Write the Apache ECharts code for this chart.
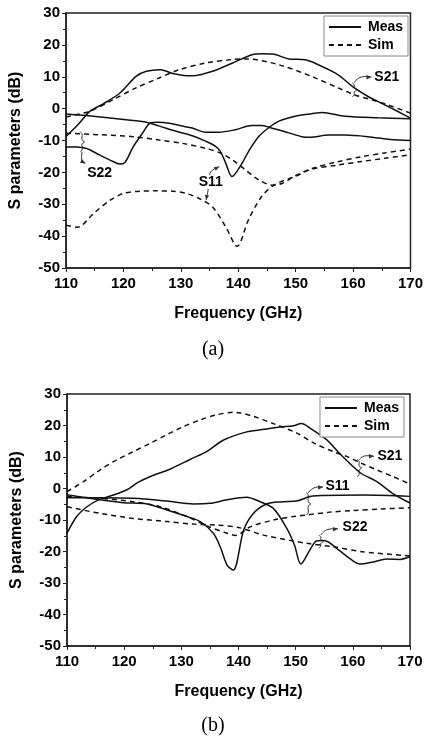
<!DOCTYPE html>
<html>
<head>
<meta charset="utf-8">
<script src="https://cdn.jsdelivr.net/npm/echarts@6/dist/echarts.min.js"></script>
<style>
  html, body { margin: 0; padding: 0; background: #fff; }
  #chart { width: 426px; height: 739px; }
</style>
</head>
<body>
<div id="chart"></div>
<script>
// panel (a): [GHz, dB]
const aS21Meas = [[110,-8.7],[112,-5.2],[114.2,-0.8],[116.5,1.5],[119.4,4.9],[122.2,10.1],[124,11.7],[126.3,12.2],[127.4,11.8],[128.6,11],[130.5,10.4],[132.1,10.3],[135.5,11.7],[139,14.3],[142.4,16.9],[144.2,17.2],[146,17.1],[148.8,15.6],[151.7,15.3],[154.6,13.2],[157.4,10.6],[160,6.8],[162.6,3.8],[165.5,1.2],[167.8,-0.9],[170,-3]];
const aS21Sim = [[110,-2.6],[114.2,-0.8],[118.2,2.8],[122.2,6.5],[126.2,9.6],[129.7,12.2],[134.3,14.3],[138.9,15.4],[141.5,15.6],[147,13.8],[152.8,10.1],[157.4,6.5],[160.3,4.3],[163.2,2.8],[166,1.2],[170,-1.4]];
const aS11Meas = [[110,-1.7],[114.8,-2.4],[120.5,-3.5],[124,-4.3],[126.3,-5.5],[129.2,-7.1],[132,-8.5],[134.3,-10.2],[136,-11.8],[136.9,-13.5],[137.8,-17],[138.9,-21.3],[140.7,-17],[141.8,-13.4],[143.6,-8.7],[145.3,-6],[147,-4],[149.9,-2.4],[152.8,-1.6],[154.6,-1.2],[158.6,-2.4],[164.3,-2.9],[170,-3.2]];
const aS22Meas = [[110,-12],[111.9,-12],[113.6,-12.5],[115.9,-14.6],[118.2,-16.6],[119.4,-17.4],[120.3,-16.8],[121.7,-12],[123.4,-7.5],[124.6,-4.6],[126,-4.3],[128,-4.6],[130,-5.4],[132,-6.1],[134.3,-7.4],[136.6,-7.4],[139.5,-6.6],[142.4,-5.3],[144,-5.3],[145.5,-5.9],[148.8,-7.6],[151.1,-8.8],[152.5,-9],[155.7,-8.3],[158.6,-8.3],[162.6,-8.8],[166.5,-9.7],[170,-10]];
const aS11Sim = [[110,-36.6],[112,-37.2],[114.8,-32.9],[117.7,-28.7],[120,-26.6],[122.9,-25.9],[125.7,-25.8],[128.6,-25.9],[130.9,-26.6],[133.2,-28.2],[135.5,-30.8],[137.8,-37],[139.8,-43.2],[141.8,-34.8],[144.1,-27.5],[146.4,-23.8],[150,-21.2],[152.8,-19],[157,-17.8],[161.4,-16.6],[165.5,-15.6],[170,-14.5]];
const aS22Sim = [[110,-7.7],[116,-8.2],[121.7,-8.8],[126,-9.8],[130.3,-10.9],[134.4,-12.5],[137,-14],[139,-16.1],[141.3,-19.3],[143.6,-22.4],[145.9,-24],[147.6,-23.5],[150,-21],[152.8,-18.8],[157,-16.8],[161.4,-15.1],[165.5,-13.9],[170,-12.7]];

// panel (b)
const bS21Meas = [[110,-14.2],[111.7,-8.9],[113.5,-5.8],[115.5,-3.6],[117.6,-2.4],[120.5,-0.4],[122.5,2],[124.6,3.8],[128.1,6.2],[131.6,9.3],[134.5,11.8],[137.4,15.4],[141.3,17.9],[144.9,18.9],[147.3,19.5],[149.6,19.9],[151,20.6],[152.5,19.2],[155.4,15.5],[157.8,10.9],[161.3,5],[164.2,2.2],[167,-1.6],[170,-4.6]];
const bS21Sim = [[110,-1],[112.9,2.2],[115.8,5.9],[118.7,9.1],[121.6,11.7],[124.6,14.4],[127.5,17.1],[130.4,19.7],[133.3,21.8],[136.2,23.4],[139.1,24.2],[140.3,24],[142.6,22.9],[146.1,20.6],[150.2,17.6],[153.1,14.5],[156.6,11.7],[158.9,10.2],[161.5,8],[164.2,5.9],[167,3.8],[170,1.4]];
const bS11Meas = [[110,-2],[115.8,-3.6],[119.9,-4.5],[124,-4.9],[127.5,-6.8],[131,-8.9],[133.3,-10.5],[135.6,-14.2],[136.8,-18.5],[138,-24.3],[139.1,-25.9],[140.9,-13.2],[142.6,-7.9],[144.9,-4.9],[147.8,-4.2],[150.1,-4],[153,-2.4],[162,-2.1],[170,-2.5]];
const bS22Meas = [[110,-2.9],[115.8,-2.9],[121.6,-3.1],[127.5,-4],[132.1,-4.9],[135,-4.7],[138,-3.6],[141.4,-2.8],[143.8,-4.2],[146.1,-6.3],[148.4,-12.5],[149.8,-18],[150.9,-24],[152.5,-19.5],[153.7,-16.6],[155,-16.5],[157.5,-19.5],[159.5,-22.3],[161.2,-24],[163.6,-23.3],[165.9,-22.4],[168.3,-22.5],[170,-21.6]];
const bS11Sim = [[110,-2.6],[115.8,-3.1],[121.6,-4.2],[126.3,-5.8],[131,-8.9],[134.5,-11.9],[138,-14.2],[139.5,-14.9],[142,-12.2],[146.1,-10],[150,-8.8],[152,-8.4],[156,-7.5],[160,-7],[165,-6.5],[170,-6.1]];
const bS22Sim = [[110,-5.8],[115.8,-7.9],[121.6,-9.5],[127.5,-10.5],[132.1,-11.3],[136.2,-11.6],[140.3,-12.5],[144.4,-14.8],[151.9,-17.4],[156.6,-18.5],[161.8,-20.1],[170,-21.4]];

const legendNames = ['Meas', 'Sim'];
const panelTags = ['(a)', '(b)'];

// annotation anchors in data units: brace [f, top, bottom], arrow path, text spot
const annots = [
  [
    { label: 'S21', brace: [160.2, 8.1, 3.7], arrow: [[160.2, 8.1], [161.2, 9.8], [163.2, 9.9]], text: [163.7, 10.0] },
    { label: 'S22', brace: [112.8, -7.3, -13.6], arrow: [[112.8, -13.6], [112.8, -16.6], [113.4, -17.1]], text: [113.7, -20.1] },
    { label: 'S11', brace: null, arrow: [[134.4, -28.7], [134.8, -24.9], [135, -20.8], [135.6, -19.2], [136.7, -18.2]], both: true, text: [133.1, -23] }
  ],
  [
    { label: 'S21', brace: [161.1, 9.2, 3.8], arrow: [[161.1, 9.2], [162, 10.3], [163.7, 10.2]], text: [164.3, 10.4] },
    { label: 'S11', brace: [152.2, -1.4, -8.4], arrow: [[152.2, -1.4], [153.2, 0.2], [154.8, 0.5]], text: [155.2, 0.8] },
    { label: 'S22', brace: [154.4, -14.8, -18.9], arrow: [[154.4, -14.8], [155.5, -13.1], [157.4, -12.8]], text: [158.2, -12.2] }
  ]
];

const FONT = 'Arial, "Liberation Sans", sans-serif';
const INK = '#111';

function line(name, data, idx, dashed) {
  return {
    name, type: 'line', data, xAxisIndex: idx, yAxisIndex: idx,
    smooth: 0.3, symbol: 'none', silent: true,
    lineStyle: { color: INK, width: 1.5, type: dashed ? [5, 4] : 'solid' },
    itemStyle: { color: INK }
  };
}

function xAx(idx) {
  return {
    gridIndex: idx, type: 'value', min: 110, max: 170, interval: 10,
    name: 'Frequency (GHz)', nameLocation: 'middle', nameGap: 38,
    nameTextStyle: { fontFamily: FONT, fontWeight: 'bold', fontSize: 16, color: '#000' },
    axisLine: { onZero: false, lineStyle: { color: '#222', width: 1.5 } },
    axisTick: { inside: false, length: 4, lineStyle: { color: '#222' } },
    minorTick: { show: true, splitNumber: 2, length: 3, lineStyle: { color: '#222' } },
    axisLabel: { fontFamily: FONT, fontWeight: 'bold', fontSize: 15, color: '#000', margin: 8 },
    splitLine: { show: false }
  };
}

function yAx(idx) {
  return {
    gridIndex: idx, type: 'value', min: -50, max: 30, interval: 10,
    name: 'S parameters (dB)', nameLocation: 'middle', nameGap: 42,
    nameTextStyle: { fontFamily: FONT, fontWeight: 'bold', fontSize: 16, color: '#000' },
    axisLine: { onZero: false, lineStyle: { color: '#222', width: 1.5 } },
    axisTick: { inside: false, length: 4, lineStyle: { color: '#222' } },
    minorTick: { show: true, splitNumber: 2, length: 3, lineStyle: { color: '#222' } },
    axisLabel: { fontFamily: FONT, fontWeight: 'bold', fontSize: 15, color: '#000', margin: 6 },
    splitLine: { show: false }
  };
}

function legend(top, right) {
  return {
    data: legendNames, orient: 'vertical', top, right,
    itemWidth: 32, itemHeight: 14, itemGap: 4, padding: [4, 5, 4, 4],
    borderColor: '#888', borderWidth: 1, backgroundColor: '#fff',
    selectedMode: false,
    itemStyle: { opacity: 0 },
    textStyle: { fontFamily: FONT, fontWeight: 'bold', fontSize: 14, color: '#000', padding: [0, 0, 0, 2] }
  };
}

const chart = echarts.init(document.getElementById('chart'));

chart.setOption({
  animation: false,
  backgroundColor: '#fff',
  grid: [
    { left: 66, top: 13, width: 347, height: 255, show: true, borderColor: '#222', borderWidth: 1.5 },
    { left: 67, top: 394, width: 343, height: 252, show: true, borderColor: '#222', borderWidth: 1.5 }
  ],
  legend: [legend(16, 18), legend(397, 22)],
  xAxis: [xAx(0), xAx(1)],
  yAxis: [yAx(0), yAx(1)],
  series: [
    line('Meas', aS21Meas, 0, false),
    line('Sim', aS21Sim, 0, true),
    line('Meas', aS11Meas, 0, false),
    line('Meas', aS22Meas, 0, false),
    line('Sim', aS11Sim, 0, true),
    line('Sim', aS22Sim, 0, true),
    line('Meas', bS21Meas, 1, false),
    line('Sim', bS21Sim, 1, true),
    line('Meas', bS11Meas, 1, false),
    line('Meas', bS22Meas, 1, false),
    line('Sim', bS11Sim, 1, true),
    line('Sim', bS22Sim, 1, true)
  ]
});

// annotations: braces, arrows, labels, placed through the grid scales
function head(p, q) {
  const dx = p[0] - q[0], dy = p[1] - q[1];
  const L = Math.hypot(dx, dy) || 1;
  const ux = dx / L, uy = dy / L;
  return {
    type: 'polygon', silent: true,
    shape: { points: [p, [p[0] - ux * 5 - uy * 2.2, p[1] - uy * 5 + ux * 2.2], [p[0] - ux * 5 + uy * 2.2, p[1] - uy * 5 - ux * 2.2]] },
    style: { fill: '#333' }
  };
}

const graphics = [];
annots.forEach((list, gi) => {
  const px = (d) => chart.convertToPixel({ gridIndex: gi }, d);
  list.forEach((a) => {
    if (a.brace) {
      const t = px([a.brace[0], a.brace[1]]), b = px([a.brace[0], a.brace[2]]);
      const x = t[0], m = (t[1] + b[1]) / 2;
      graphics.push({
        type: 'polyline', silent: true,
        shape: { points: [[x - 2, t[1]], [x, t[1] + 2], [x, m - 2], [x + 2.5, m], [x, m + 2], [x, b[1] - 2], [x - 2, b[1]]], smooth: 0.4 },
        style: { stroke: '#333', lineWidth: 1, fill: null }
      });
    }
    const pts = a.arrow.map(px);
    graphics.push({
      type: 'polyline', silent: true,
      shape: { points: pts, smooth: 0.5 },
      style: { stroke: '#333', lineWidth: 1, fill: null }
    });
    graphics.push(head(pts[pts.length - 1], pts[pts.length - 2]));
    if (a.both) graphics.push(head(pts[0], pts[1]));
    const tp = px(a.text);
    graphics.push({
      type: 'text', silent: true, x: tp[0], y: tp[1],
      style: {
        text: a.label, fontFamily: FONT, fontWeight: 'bold', fontSize: 14, fill: '#000',
        verticalAlign: 'middle', align: 'left',
        backgroundColor: a.both ? '#fff' : null
      }
    });
  });
});

graphics.push(
  { type: 'text', silent: true, x: 213, y: 350, style: { text: panelTags[0], font: '20px "Liberation Serif", "Times New Roman", serif', fill: '#000', align: 'center', verticalAlign: 'middle' } },
  { type: 'text', silent: true, x: 213, y: 726, style: { text: panelTags[1], font: '20px "Liberation Serif", "Times New Roman", serif', fill: '#000', align: 'center', verticalAlign: 'middle' } }
);

chart.setOption({ graphic: graphics });
</script>
</body>
</html>
